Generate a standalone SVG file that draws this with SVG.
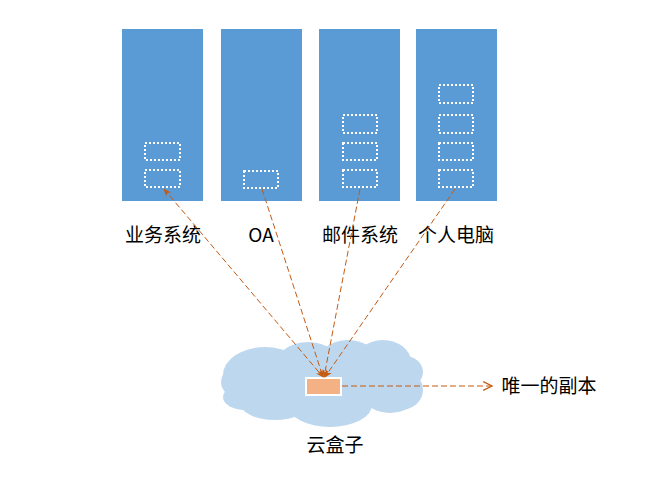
<svg xmlns="http://www.w3.org/2000/svg" width="646" height="490" viewBox="0 0 646 490">
<style>
.col{fill:#5B9BD5;}
.slot{fill:none;stroke:#FFFFFF;stroke-width:2;stroke-dasharray:2,2;}
.lbl{font-family:"Noto Sans CJK SC","Microsoft YaHei",sans-serif;font-size:19px;fill:#000;text-anchor:middle;}
.cl{fill:#BDD7EE;}
.con{fill:none;stroke:#C55A11;stroke-width:1;stroke-dasharray:6,3;}
</style>
<defs>
<marker id="ah" viewBox="0 0 10 10" refX="9" refY="5" markerWidth="8" markerHeight="8" orient="auto-start-reverse" markerUnits="userSpaceOnUse">
<path d="M0,1 L10,5 L0,9 L3,5 z" fill="#C55A11"/>
</marker>
<marker id="open" viewBox="0 0 10 10" refX="9" refY="5" markerWidth="11" markerHeight="11" orient="auto" markerUnits="userSpaceOnUse">
<path d="M1,1 L9,5 L1,9" fill="none" stroke="#C55A11" stroke-width="1.2"/>
</marker>
</defs>
<rect width="646" height="490" fill="#FFFFFF"/>
<g id="node-yewu">
<rect class="col" x="122" y="29" width="81" height="172"/>
<rect class="slot" x="145" y="143" width="35" height="17"/>
<rect class="slot" x="145" y="170" width="35" height="17"/>
<text class="lbl" x="163" y="242">业务系统</text>
</g>
<g id="node-oa">
<rect class="col" x="221" y="29" width="81" height="172"/>
<rect class="slot" x="244" y="171" width="34" height="17"/>
<text class="lbl" x="261" y="242">OA</text>
</g>
<g id="node-mail">
<rect class="col" x="319" y="29" width="81" height="172"/>
<rect class="slot" x="343" y="115" width="34" height="18"/>
<rect class="slot" x="343" y="143" width="34" height="17"/>
<rect class="slot" x="343" y="170" width="34" height="17"/>
<text class="lbl" x="360" y="242">邮件系统</text>
</g>
<g id="node-pc">
<rect class="col" x="416" y="29" width="81" height="172"/>
<rect class="slot" x="439" y="85" width="34" height="18"/>
<rect class="slot" x="439" y="115" width="34" height="18"/>
<rect class="slot" x="439" y="143" width="34" height="17"/>
<rect class="slot" x="439" y="170" width="34" height="17"/>
<text class="lbl" x="456" y="242">个人电脑</text>
</g>
<g id="node-cloud">
<ellipse class="cl" cx="265" cy="375" rx="42" ry="28"/>
<ellipse class="cl" cx="245" cy="382" rx="24" ry="18"/>
<ellipse class="cl" cx="308" cy="365" rx="32" ry="23"/>
<ellipse class="cl" cx="348" cy="362" rx="30" ry="22"/>
<ellipse class="cl" cx="383" cy="362" rx="28" ry="22"/>
<ellipse class="cl" cx="405" cy="372" rx="18" ry="16"/>
<ellipse class="cl" cx="400" cy="390" rx="23" ry="20"/>
<ellipse class="cl" cx="330" cy="405" rx="42" ry="22"/>
<ellipse class="cl" cx="275" cy="403" rx="35" ry="17"/>
<ellipse class="cl" cx="245" cy="397" rx="22" ry="13"/>
<ellipse class="cl" cx="390" cy="398" rx="25" ry="15"/>
<ellipse class="cl" cx="325" cy="385" rx="80" ry="25"/>
<rect x="306" y="378" width="35" height="17" fill="#F4B183" stroke="#FFFFFF" stroke-width="2"/>
<text class="lbl" x="335" y="452">云盒子</text>
</g>
<g id="node-copy">
<text class="lbl" x="549" y="393">唯一的副本</text>
</g>
<g id="connectors">
<line class="con" x1="164" y1="189" x2="323" y2="377" marker-start="url(#ah)" marker-end="url(#ah)"/>
<line class="con" x1="262" y1="189" x2="323" y2="377" marker-end="url(#ah)"/>
<line class="con" x1="360" y1="189" x2="324" y2="377" marker-end="url(#ah)"/>
<line class="con" x1="455" y1="189" x2="325" y2="377" marker-end="url(#ah)"/>
<line class="con" x1="342" y1="386" x2="492" y2="386" marker-end="url(#open)"/>
</g>
</svg>
